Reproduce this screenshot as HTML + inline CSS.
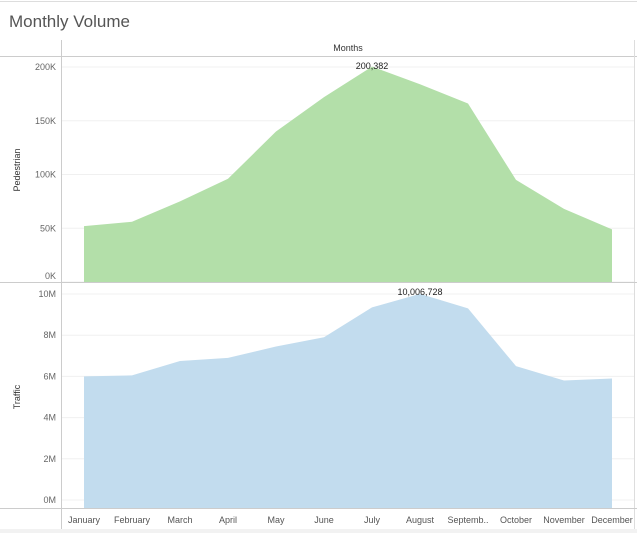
<!DOCTYPE html>
<html><head><meta charset="utf-8"><style>
body{margin:0;background:#fff;font-family:"Liberation Sans",sans-serif}
svg text{font-family:"Liberation Sans",sans-serif}
</style></head><body>
<svg width="637" height="533">
<rect x="0" y="0" width="637" height="533" fill="#fff"/>
<line x1="0" y1="1.5" x2="637" y2="1.5" stroke="#ddd"/>
<text x="9" y="27" font-size="17" fill="#555">Monthly Volume</text>
<text x="348" y="51" font-size="9" text-anchor="middle" fill="#333">Months</text>
<g id="grid"></g>
<path id="pedArea" fill="#b3dfa9"/>
<path id="trafArea" fill="#c2dcee"/>
<line x1="0" y1="56.5" x2="637" y2="56.5" stroke="#ccc"/>
<line x1="61.5" y1="40" x2="61.5" y2="530" stroke="#ccc"/>
<line x1="634.5" y1="40" x2="634.5" y2="530" stroke="#ddd"/>
<line x1="0" y1="282.5" x2="637" y2="282.5" stroke="#ccc"/>
<line x1="0" y1="508.5" x2="637" y2="508.5" stroke="#ccc"/>
<rect x="0" y="529" width="637" height="4" fill="#f2f2f2"/>
<text transform="translate(20,170) rotate(-90)" font-size="9" text-anchor="middle" fill="#333">Pedestrian</text>
<text transform="translate(20,397) rotate(-90)" font-size="9" text-anchor="middle" fill="#333">Traffic</text>
<g id="labels"></g>
</svg>
<script>
const months=["January","February","March","April","May","June","July","August","Septemb..","October","November","December"];
const pedestrian=[52000,56000,75000,96000,140000,172000,200382,184000,166000,95000,68000,49000];
const traffic=[6000000,6050000,6750000,6900000,7450000,7900000,9350000,10006728,9300000,6500000,5800000,5900000];
const pedTicks=[0,50000,100000,150000,200000];
const pedTickLabels=["0K","50K","100K","150K","200K"];
const trafTicks=[0,2e6,4e6,6e6,8e6,10e6];
const trafTickLabels=["0M","2M","4M","6M","8M","10M"];
const NS="http://www.w3.org/2000/svg";
const x=i=>84+i*(612-84)/(months.length-1);
const yP=v=>282-v*(215/200000);
const yT=v=>500-v*(206/10e6);
function area(vals,y,base){let d="M"+x(0)+","+base;vals.forEach((v,i)=>d+="L"+x(i)+","+y(v));return d+"L"+x(vals.length-1)+","+base+"Z";}
document.getElementById("pedArea").setAttribute("d",area(pedestrian,yP,282));
document.getElementById("trafArea").setAttribute("d",area(traffic,yT,508));
const g=document.getElementById("grid"),L=document.getElementById("labels");
function txt(xx,yy,s,anchor,size,fill){const t=document.createElementNS(NS,"text");t.setAttribute("x",xx);t.setAttribute("y",yy);t.setAttribute("text-anchor",anchor);t.setAttribute("font-size",size);t.setAttribute("fill",fill);t.textContent=s;L.appendChild(t);return t;}
function gl(yy){const l=document.createElementNS(NS,"line");l.setAttribute("x1",62);l.setAttribute("x2",634);l.setAttribute("y1",yy);l.setAttribute("y2",yy);l.setAttribute("stroke","#f0f0f0");g.appendChild(l);}
pedTicks.forEach((v,i)=>{gl(yP(v));const t=txt(56,Math.min(yP(v)+3,279),pedTickLabels[i],"end",9,"#666");

});
trafTicks.forEach((v,i)=>{gl(yT(v));const t=txt(56,yT(v)+3,trafTickLabels[i],"end",9,"#666");

});
months.forEach((m,i)=>{const t=txt(x(i),523,m,"middle",9,"#555");

});
let pi=pedestrian.indexOf(Math.max(...pedestrian));
let t1=txt(x(pi),69,pedestrian[pi].toLocaleString("en-US"),"middle",9,"#222");


let ti=traffic.indexOf(Math.max(...traffic));
let t2=txt(x(ti),295,traffic[ti].toLocaleString("en-US"),"middle",9,"#222");


</script>
</body></html>
